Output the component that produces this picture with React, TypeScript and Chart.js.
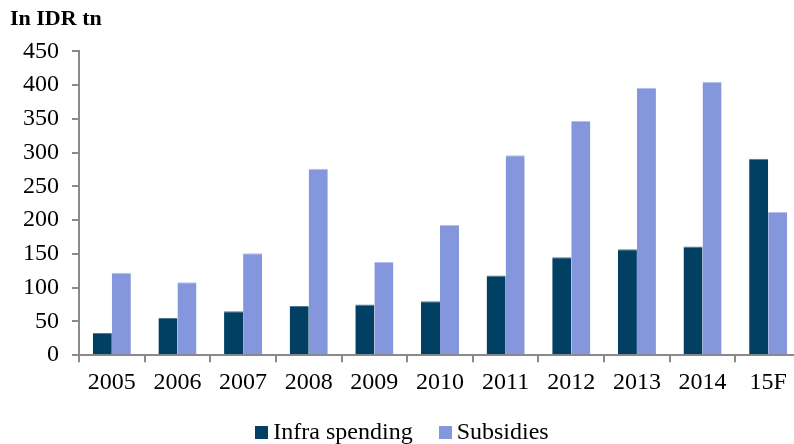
import React, { useEffect, useRef } from "react";
import { Chart, registerables } from "chart.js";

Chart.register(...registerables);

const categories = ["2005", "2006", "2007", "2008", "2009", "2010", "2011", "2012", "2013", "2014", "15F"];
const infraSpending = [33, 55, 65, 73, 75, 80, 118, 145, 157, 161, 291];
const subsidies = [122, 108, 151, 276, 138, 193, 296, 347, 396, 405, 212];
const seriesNames = ["Infra spending", "Subsidies"];
const seriesColors = ["#013F63", "#8496DC"];
const yTicks = { min: 0, max: 450, step: 50 };

const FONT = "'Liberation Serif', 'Times New Roman', serif";

export default function App() {
  const ref = useRef<HTMLCanvasElement | null>(null);
  useEffect(() => {
    if (!ref.current) return;
    const chart = new Chart(ref.current, {
      type: "bar",
      data: {
        labels: categories,
        datasets: [
          {
            label: seriesNames[0],
            data: infraSpending,
            backgroundColor: seriesColors[0],
            borderColor: "#4f7891",
            borderWidth: { top: 1, left: 0, right: 0, bottom: 0 },
            categoryPercentage: 0.58,
            barPercentage: 1,
          },
          {
            label: seriesNames[1],
            data: subsidies,
            backgroundColor: seriesColors[1],
            borderColor: "#b3c0ee",
            borderWidth: { top: 1, left: 0, right: 0, bottom: 0 },
            categoryPercentage: 0.58,
            barPercentage: 1,
          },
        ],
      },
      options: {
        animation: false,
        responsive: false,
        maintainAspectRatio: false,
        layout: { padding: { left: 10, right: 1, top: 0, bottom: 41 } },
        plugins: {
          title: {
            display: true,
            text: "In IDR tn",
            align: "start",
            color: "#000",
            font: { family: FONT, size: 22, weight: "bold" },
            padding: { top: 6, bottom: 19 },
          },
          legend: { display: false },
          tooltip: { enabled: false },
        },
        scales: {
          x: {
            grid: {
              offset: true,
              drawOnChartArea: false,
              drawTicks: true,
              tickLength: 7,
              color: "#8a8a8a",
              lineWidth: 2,
            },
            border: { color: "#8a8a8a", width: 2 },
            ticks: {
              color: "#000",
              font: { family: FONT, size: 24 },
              padding: 6,
              maxRotation: 0,
              autoSkip: false,
            },
          },
          y: {
            min: yTicks.min,
            max: yTicks.max,
            afterFit: (scale: any) => {
              scale.width = 69;
            },
            grid: {
              drawOnChartArea: false,
              drawTicks: true,
              tickLength: 7,
              color: "#8a8a8a",
              lineWidth: 2,
            },
            border: { color: "#8a8a8a", width: 2 },
            ticks: {
              stepSize: yTicks.step,
              color: "#000",
              font: { family: FONT, size: 24 },
              padding: 13,
            },
          },
        },
      },
    });
    return () => chart.destroy();
  }, []);
  return (
    <div style={{ position: "fixed", left: 0, top: 0, width: 794, height: 444, overflow: "hidden", background: "#fff" }}>
      <canvas ref={ref} width={802} height={444} style={{ display: "block" }} />
      <div
        style={{
          position: "absolute",
          left: 0,
          top: 417,
          width: 794,
          display: "flex",
          justifyContent: "center",
          alignItems: "center",
          fontFamily: FONT,
          fontSize: 24,
          lineHeight: "28px",
          color: "#000",
          paddingLeft: 10,
          boxSizing: "border-box",
        }}
      >
        {seriesNames.map((name, i) => (
          <span key={name} style={{ display: "flex", alignItems: "center", marginRight: i === 0 ? 26 : 0 }}>
            <span style={{ display: "inline-block", width: 13, height: 13, background: seriesColors[i], marginRight: 5, marginTop: 2 }} />
            {name}
          </span>
        ))}
      </div>
    </div>
  );
}
